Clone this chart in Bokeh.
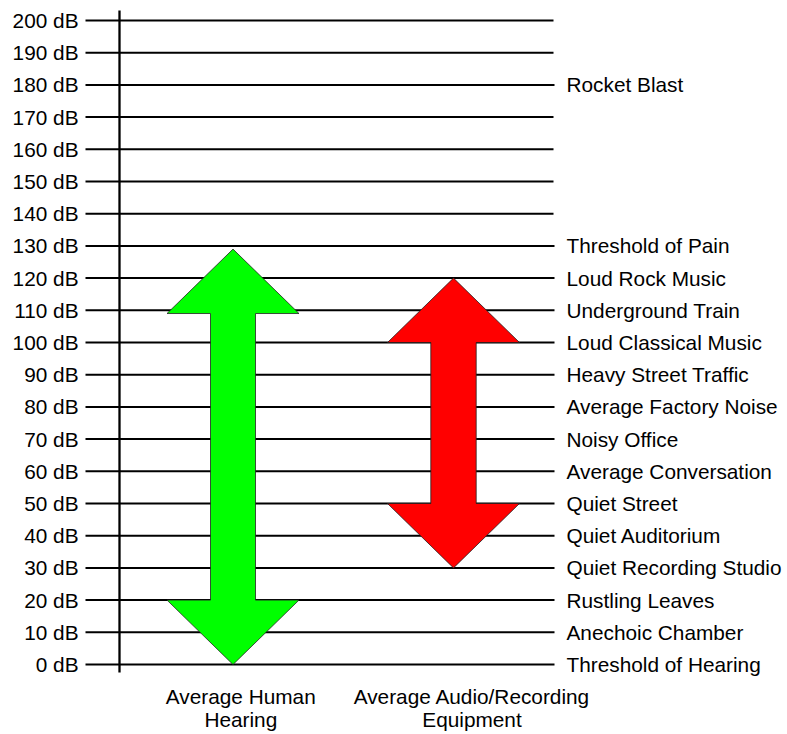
from bokeh.plotting import figure
from bokeh.models import Range1d
from bokeh.core.properties import value
from bokeh.embed import file_html
from bokeh.resources import INLINE

# ---------------- data ----------------
level_db = [0, 10, 20, 30, 40, 50, 60, 70, 80, 90, 100,
            110, 120, 130, 140, 150, 160, 170, 180, 190, 200]
level_tick_labels = ["0 dB", "10 dB", "20 dB", "30 dB", "40 dB", "50 dB",
                     "60 dB", "70 dB", "80 dB", "90 dB", "100 dB", "110 dB",
                     "120 dB", "130 dB", "140 dB", "150 dB", "160 dB",
                     "170 dB", "180 dB", "190 dB", "200 dB"]
source_db = [0, 10, 20, 30, 40, 50, 60, 70, 80, 90, 100, 110, 120, 130, 180]
source_names = ["Threshold of Hearing", "Anechoic Chamber", "Rustling Leaves",
                "Quiet Recording Studio", "Quiet Auditorium", "Quiet Street",
                "Average Conversation", "Noisy Office", "Average Factory Noise",
                "Heavy Street Traffic", "Loud Classical Music",
                "Underground Train", "Loud Rock Music", "Threshold of Pain",
                "Rocket Blast"]
categories = ["Average Human Hearing", "Average Audio/Recording Equipment"]
category_line1 = ["Average Human", "Average Audio/Recording"]
category_line2 = ["Hearing", "Equipment"]
range_low = [0, 30]
range_high = [129, 120]
head_db = [20, 20]
arrow_colors = ["#00FF00", "#FF0000"]

# ---------------- layout (canvas pixels) ----------------
W, H = 787, 734
PX_PER_DB = 3.22
ZERO_Y = 664          # canvas y of the 0 dB line
top_db = 200 + 20 / PX_PER_DB
bot_db = -(H - ZERO_Y) / PX_PER_DB

def y_of(py):
    return (ZERO_Y - py) / PX_PER_DB

FONT = value("Liberation Sans")
FS = "20.8px"

p = figure(width=W, height=H, output_backend="svg", toolbar_location=None,
           x_range=Range1d(0, W), y_range=Range1d(bot_db, top_db),
           min_border=0, outline_line_color=None)
p.axis.visible = False
p.grid.visible = False
p.background_fill_color = "white"
p.border_fill_color = "white"

# horizontal level lines
line_x0 = 85
line_x1 = [554 if d in source_db else 553 for d in level_db]
p.segment(x0=[line_x0] * len(level_db), x1=line_x1, y0=level_db, y1=level_db,
          line_color="black", line_width=2)

# vertical axis line
p.segment(x0=[119], x1=[119], y0=[y_of(672)], y1=[y_of(10)],
          line_color="black", line_width=2.3)

# left tick labels
p.text(x=[78] * len(level_db), y=level_db, text=level_tick_labels,
       text_align="right", text_baseline="middle", text_font=FONT,
       text_font_size=FS, text_color="black")

# right source labels
p.text(x=[566] * len(source_db), y=source_db, text=source_names,
       text_align="left", text_baseline="middle", text_font=FONT,
       text_font_size=FS, text_color="black")

# double-headed arrows
centers = [232.5, 453]
shaft_half = [22.5, 22.7]
head_half = [66, 66]
xs, ys = [], []
for cx, sw, hw, lo, hi, hd in zip(centers, shaft_half, head_half,
                                  range_low, range_high, head_db):
    xs.append([cx, cx + hw, cx + sw, cx + sw, cx + hw, cx,
               cx - hw, cx - sw, cx - sw, cx - hw])
    ys.append([hi, hi - hd, hi - hd, lo + hd, lo + hd, lo,
               lo + hd, lo + hd, hi - hd, hi - hd])
p.patches(xs=xs, ys=ys, fill_color=arrow_colors, line_color="#222222",
          line_width=0.8)

# category labels below
label_cx = [240.3, 471.5]
p.text(x=label_cx, y=[y_of(696)] * 2, text=category_line1,
       text_align="center", text_baseline="middle", text_font=FONT,
       text_font_size=FS, text_color="black")
p.text(x=label_cx, y=[y_of(719)] * 2, text=category_line2,
       text_align="center", text_baseline="middle", text_font=FONT,
       text_font_size=FS, text_color="black")

open("out.html", "w").write(file_html(p, INLINE))
